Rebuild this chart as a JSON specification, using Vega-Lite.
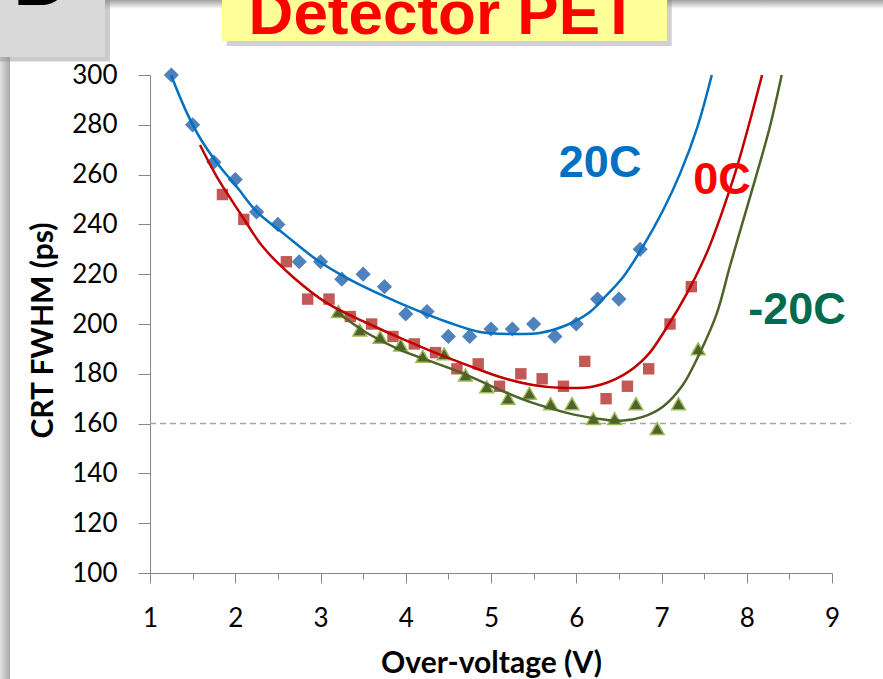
{
  "$schema": "https://vega.github.io/schema/vega-lite/v6.json",
  "width": 682,
  "height": 498,
  "autosize": {"type": "none"},
  "padding": {"left": 150, "top": 75, "right": 51, "bottom": 106},
  "background": "#FFFFFF",
  "config": {"view": {"stroke": null}},
  "resolve": {"axis": {"x": "independent"}},
  "datasets": {
    "one": [{}],
    "points": [
      {"series": "20C", "v": 1.25, "crt": 300}, {"series": "20C", "v": 1.5, "crt": 280}, {"series": "20C", "v": 1.75, "crt": 265},
      {"series": "20C", "v": 2.0, "crt": 258}, {"series": "20C", "v": 2.25, "crt": 245}, {"series": "20C", "v": 2.5, "crt": 240},
      {"series": "20C", "v": 2.75, "crt": 225}, {"series": "20C", "v": 3.0, "crt": 225}, {"series": "20C", "v": 3.25, "crt": 218},
      {"series": "20C", "v": 3.5, "crt": 220}, {"series": "20C", "v": 3.75, "crt": 215}, {"series": "20C", "v": 4.0, "crt": 204},
      {"series": "20C", "v": 4.25, "crt": 205}, {"series": "20C", "v": 4.5, "crt": 195}, {"series": "20C", "v": 4.75, "crt": 195},
      {"series": "20C", "v": 5.0, "crt": 198}, {"series": "20C", "v": 5.25, "crt": 198}, {"series": "20C", "v": 5.5, "crt": 200},
      {"series": "20C", "v": 5.75, "crt": 195}, {"series": "20C", "v": 6.0, "crt": 200}, {"series": "20C", "v": 6.25, "crt": 210},
      {"series": "20C", "v": 6.5, "crt": 210}, {"series": "20C", "v": 6.75, "crt": 230},
      {"series": "0C", "v": 1.85, "crt": 252}, {"series": "0C", "v": 2.1, "crt": 242}, {"series": "0C", "v": 2.6, "crt": 225},
      {"series": "0C", "v": 2.85, "crt": 210}, {"series": "0C", "v": 3.1, "crt": 210}, {"series": "0C", "v": 3.35, "crt": 203},
      {"series": "0C", "v": 3.6, "crt": 200}, {"series": "0C", "v": 3.85, "crt": 195}, {"series": "0C", "v": 4.1, "crt": 192},
      {"series": "0C", "v": 4.35, "crt": 188.5}, {"series": "0C", "v": 4.6, "crt": 182}, {"series": "0C", "v": 4.85, "crt": 184},
      {"series": "0C", "v": 5.1, "crt": 175}, {"series": "0C", "v": 5.35, "crt": 180}, {"series": "0C", "v": 5.6, "crt": 178},
      {"series": "0C", "v": 5.85, "crt": 175}, {"series": "0C", "v": 6.1, "crt": 185}, {"series": "0C", "v": 6.35, "crt": 170},
      {"series": "0C", "v": 6.6, "crt": 175}, {"series": "0C", "v": 6.85, "crt": 182}, {"series": "0C", "v": 7.1, "crt": 200},
      {"series": "0C", "v": 7.35, "crt": 215},
      {"series": "-20C", "v": 3.21, "crt": 205}, {"series": "-20C", "v": 3.46, "crt": 197.6}, {"series": "-20C", "v": 3.7, "crt": 194.7},
      {"series": "-20C", "v": 3.94, "crt": 191.6}, {"series": "-20C", "v": 4.2, "crt": 187}, {"series": "-20C", "v": 4.45, "crt": 188},
      {"series": "-20C", "v": 4.7, "crt": 179.5}, {"series": "-20C", "v": 4.95, "crt": 174.8}, {"series": "-20C", "v": 5.2, "crt": 170.2},
      {"series": "-20C", "v": 5.45, "crt": 172.2}, {"series": "-20C", "v": 5.7, "crt": 168}, {"series": "-20C", "v": 5.95, "crt": 168},
      {"series": "-20C", "v": 6.2, "crt": 162}, {"series": "-20C", "v": 6.45, "crt": 162}, {"series": "-20C", "v": 6.7, "crt": 168},
      {"series": "-20C", "v": 6.95, "crt": 158}, {"series": "-20C", "v": 7.2, "crt": 168}, {"series": "-20C", "v": 7.43, "crt": 190}
    ],
    "curves": [
      {"series": "20C", "v": 1.246, "crt": 300}, {"series": "20C", "v": 1.434, "crt": 284.7}, {"series": "20C", "v": 1.587, "crt": 274.7},
      {"series": "20C", "v": 1.786, "crt": 264.7}, {"series": "20C", "v": 2.02, "crt": 255}, {"series": "20C", "v": 2.255, "crt": 245},
      {"series": "20C", "v": 2.56, "crt": 236.5}, {"series": "20C", "v": 2.96, "crt": 225.7}, {"series": "20C", "v": 3.35, "crt": 217.7},
      {"series": "20C", "v": 3.93, "crt": 208.4}, {"series": "20C", "v": 4.52, "crt": 200.4}, {"series": "20C", "v": 4.87, "crt": 196.8},
      {"series": "20C", "v": 5.22, "crt": 196}, {"series": "20C", "v": 5.57, "crt": 196.4}, {"series": "20C", "v": 5.89, "crt": 199.6},
      {"series": "20C", "v": 6.16, "crt": 204.8}, {"series": "20C", "v": 6.3, "crt": 209.6}, {"series": "20C", "v": 6.55, "crt": 218.9},
      {"series": "20C", "v": 6.78, "crt": 231}, {"series": "20C", "v": 7.02, "crt": 245.8}, {"series": "20C", "v": 7.22, "crt": 260.6},
      {"series": "20C", "v": 7.42, "crt": 279}, {"series": "20C", "v": 7.59, "crt": 300},
      {"series": "0C", "v": 1.587, "crt": 271.9}, {"series": "0C", "v": 1.786, "crt": 259}, {"series": "0C", "v": 2.056, "crt": 244.6},
      {"series": "0C", "v": 2.326, "crt": 230.9}, {"series": "0C", "v": 2.677, "crt": 218.9}, {"series": "0C", "v": 3.076, "crt": 208.4},
      {"series": "0C", "v": 3.545, "crt": 200.4}, {"series": "0C", "v": 3.933, "crt": 194.4}, {"series": "0C", "v": 4.32, "crt": 188.8},
      {"series": "0C", "v": 4.72, "crt": 183.5}, {"series": "0C", "v": 5.106, "crt": 178.7}, {"series": "0C", "v": 5.49, "crt": 175.5},
      {"series": "0C", "v": 5.845, "crt": 174.3}, {"series": "0C", "v": 6.2, "crt": 174.9}, {"series": "0C", "v": 6.55, "crt": 179.5},
      {"series": "0C", "v": 6.83, "crt": 187.2}, {"series": "0C", "v": 7.065, "crt": 198.8}, {"series": "0C", "v": 7.3, "crt": 212.4},
      {"series": "0C", "v": 7.53, "crt": 228.5}, {"series": "0C", "v": 7.72, "crt": 245.8}, {"series": "0C", "v": 7.885, "crt": 263},
      {"series": "0C", "v": 8.04, "crt": 281.9}, {"series": "0C", "v": 8.18, "crt": 300},
      {"series": "-20C", "v": 3.19, "crt": 204.8}, {"series": "-20C", "v": 3.545, "crt": 196.4}, {"series": "-20C", "v": 3.933, "crt": 189.6},
      {"series": "-20C", "v": 4.32, "crt": 184.7}, {"series": "-20C", "v": 4.72, "crt": 179.5}, {"series": "-20C", "v": 5.106, "crt": 173.5},
      {"series": "-20C", "v": 5.49, "crt": 168.3}, {"series": "-20C", "v": 5.89, "crt": 164.3}, {"series": "-20C", "v": 6.2, "crt": 162.2},
      {"series": "-20C", "v": 6.55, "crt": 161.2}, {"series": "-20C", "v": 6.78, "crt": 162.7}, {"series": "-20C", "v": 7.02, "crt": 166.9},
      {"series": "-20C", "v": 7.25, "crt": 175.5}, {"series": "-20C", "v": 7.45, "crt": 188.4}, {"series": "-20C", "v": 7.65, "crt": 204.4},
      {"series": "-20C", "v": 7.8, "crt": 222.9}, {"series": "-20C", "v": 7.96, "crt": 241.8}, {"series": "-20C", "v": 8.12, "crt": 260.6},
      {"series": "-20C", "v": 8.27, "crt": 279}, {"series": "-20C", "v": 8.41, "crt": 300}
    ],
    "labels": [
      {"label": "20C", "v": 6.28, "crt": 264.5},
      {"label": "0C", "v": 7.71, "crt": 257.8},
      {"label": "-20C", "v": 8.59, "crt": 205.6}
    ]
  },
  "layer": [
    {
      "data": {"name": "one"},
      "mark": {"type": "rect", "clip": false, "fill": {"gradient": "linear", "x1": 0, "y1": 0, "x2": 0, "y2": 1, "stops": [{"offset": 0, "color": "#A0A0A0"}, {"offset": 1, "color": "#FFFFFF"}]}},
      "encoding": {
        "x": {"datum": -0.7595, "type": "quantitative", "axis": null, "scale": {"domain": [1, 9], "nice": false, "zero": false}},
        "x2": {"datum": 9.6},
        "y": {"datum": 330.1, "type": "quantitative", "scale": {"domain": [100, 300], "nice": false, "zero": false}},
        "y2": {"datum": 326.5}
      }
    },
    {
      "data": {"name": "one"},
      "mark": {"type": "rect", "clip": false, "fill": {"gradient": "linear", "x1": 0, "y1": 0, "x2": 1, "y2": 0, "stops": [{"offset": 0, "color": "#E2E2E2"}, {"offset": 1, "color": "#A8A8A8"}]}},
      "encoding": {
        "x": {"datum": -0.7595, "type": "quantitative", "axis": null},
        "x2": {"datum": -0.642},
        "y": {"datum": 308, "type": "quantitative"},
        "y2": {"datum": 57}
      }
    },
    {
      "data": {"name": "one"},
      "mark": {"type": "rect", "clip": false, "fill": "#8C8C8C", "opacity": 0.45},
      "encoding": {
        "x": {"datum": -0.7595, "type": "quantitative", "axis": null},
        "x2": {"datum": 0.53},
        "y": {"datum": 330.1, "type": "quantitative"},
        "y2": {"datum": 305.4}
      }
    },
    {
      "data": {"name": "one"},
      "mark": {"type": "rect", "clip": false, "fill": "#D9D9D9"},
      "encoding": {
        "x": {"datum": -0.7595, "type": "quantitative", "axis": null},
        "x2": {"datum": 0.472},
        "y": {"datum": 330.1, "type": "quantitative"},
        "y2": {"datum": 307.2}
      }
    },
    {
      "data": {"name": "one"},
      "mark": {"type": "text", "clip": false, "text": "D", "font": "Liberation Sans", "fontWeight": "bold", "fontSize": 80, "color": "#000000", "align": "center", "baseline": "alphabetic"},
      "encoding": {
        "x": {"datum": -0.267, "type": "quantitative", "axis": null},
        "y": {"datum": 328.3, "type": "quantitative"}
      }
    },
    {
      "data": {"name": "one"},
      "mark": {"type": "rect", "clip": false, "fill": "#8C8C8C", "opacity": 0.4},
      "encoding": {
        "x": {"datum": 1.9, "type": "quantitative", "axis": null},
        "x2": {"datum": 7.12},
        "y": {"datum": 330.1, "type": "quantitative"},
        "y2": {"datum": 311.6}
      }
    },
    {
      "data": {"name": "one"},
      "mark": {"type": "rect", "clip": false, "fill": "#FFFF99"},
      "encoding": {
        "x": {"datum": 1.845, "type": "quantitative", "axis": null},
        "x2": {"datum": 7.065},
        "y": {"datum": 330.1, "type": "quantitative"},
        "y2": {"datum": 313.65}
      }
    },
    {
      "data": {"name": "one"},
      "mark": {"type": "text", "clip": false, "text": "Detector PET", "font": "Liberation Sans", "fontWeight": "bold", "fontSize": 62, "color": "#FF0000", "align": "center", "baseline": "alphabetic"},
      "encoding": {
        "x": {"datum": 4.44, "type": "quantitative", "axis": null},
        "y": {"datum": 316.5, "type": "quantitative"}
      }
    },
    {
      "data": {"name": "one"},
      "mark": {"type": "rule", "clip": false, "color": "#A6A6A6", "strokeWidth": 1.5, "strokeDash": [6, 4]},
      "encoding": {
        "x": {"datum": 1, "type": "quantitative", "axis": null},
        "x2": {"datum": 9.22},
        "y": {"datum": 160, "type": "quantitative"}
      }
    },
    {
      "data": {"name": "points"},
      "transform": [{"filter": "datum.series === '20C'"}],
      "mark": {"type": "point", "shape": "diamond", "filled": true, "size": 230, "color": "#4F81BD", "opacity": 1},
      "encoding": {
        "x": {"field": "v", "type": "quantitative",
          "axis": {
            "orient": "bottom",
            "title": "Over-voltage (V)",
            "values": [1, 2, 3, 4, 5, 6, 7, 8, 9],
            "format": ".0f",
            "grid": false,
            "domainColor": "#868686", "tickColor": "#868686", "domainWidth": 1, "tickWidth": 1,
            "tickSize": 10, "labelPadding": 22,
            "labelFont": "Lato", "labelFontSize": 26, "labelColor": "#000000", "labelFlush": false,
            "titleFont": "Lato", "titleFontSize": 30, "titleFontWeight": "bold", "titleColor": "#000000",
            "titleX": 341, "titleY": 90, "titleBaseline": "middle", "titleAlign": "center"
          }
        },
        "y": {"field": "crt", "type": "quantitative",
          "axis": {
            "title": "CRT FWHM (ps)",
            "values": [100, 120, 140, 160, 180, 200, 220, 240, 260, 280, 300],
            "grid": false,
            "domainColor": "#868686", "tickColor": "#868686", "domainWidth": 1, "tickWidth": 1,
            "tickSize": 12, "labelPadding": 21,
            "labelFont": "Lato", "labelFontSize": 26, "labelColor": "#000000", "labelFlush": false,
            "titleFont": "Lato", "titleFontSize": 30, "titleFontWeight": "bold", "titleColor": "#000000",
            "titleX": -107, "titleY": 255, "titleBaseline": "middle", "titleAlign": "center", "titleAngle": -90
          }
        }
      }
    },
    {
      "data": {"name": "points"},
      "transform": [{"filter": "datum.series === '0C'"}],
      "mark": {"type": "point", "shape": "square", "filled": true, "size": 130, "color": "#C0504D", "opacity": 0.95},
      "encoding": {
        "x": {"field": "v", "type": "quantitative",
          "axis": {
            "orient": "bottom",
            "title": null,
            "values": [1.5, 2.5, 3.5, 4.5, 5.5, 6.5, 7.5, 8.5],
            "labels": false,
            "domain": false,
            "grid": false,
            "tickColor": "#868686", "tickWidth": 1, "tickSize": 6
          }
        },
        "y": {"field": "crt", "type": "quantitative"}
      }
    },
    {
      "data": {"name": "points"},
      "transform": [{"filter": "datum.series === '-20C'"}],
      "mark": {"type": "point", "shape": "triangle-up", "filled": true, "size": 190, "fill": "#4F6228", "stroke": "#9BBB59", "strokeWidth": 1.5, "opacity": 1, "fillOpacity": 1},
      "encoding": {
        "x": {"field": "v", "type": "quantitative", "axis": null},
        "y": {"field": "crt", "type": "quantitative"}
      }
    },
    {
      "data": {"name": "curves"},
      "transform": [{"filter": "datum.series === '20C'"}],
      "mark": {"type": "line", "interpolate": "catmull-rom", "color": "#0070C0", "strokeWidth": 2.5, "clip": true},
      "encoding": {
        "x": {"field": "v", "type": "quantitative", "axis": null},
        "y": {"field": "crt", "type": "quantitative"}
      }
    },
    {
      "data": {"name": "curves"},
      "transform": [{"filter": "datum.series === '0C'"}],
      "mark": {"type": "line", "interpolate": "catmull-rom", "color": "#C00000", "strokeWidth": 2.5, "clip": true},
      "encoding": {
        "x": {"field": "v", "type": "quantitative", "axis": null},
        "y": {"field": "crt", "type": "quantitative"}
      }
    },
    {
      "data": {"name": "curves"},
      "transform": [{"filter": "datum.series === '-20C'"}],
      "mark": {"type": "line", "interpolate": "catmull-rom", "color": "#4F6228", "strokeWidth": 2.5, "clip": true},
      "encoding": {
        "x": {"field": "v", "type": "quantitative", "axis": null},
        "y": {"field": "crt", "type": "quantitative"}
      }
    },
    {
      "data": {"name": "labels"},
      "mark": {"type": "text", "font": "Liberation Sans", "fontWeight": "bold", "fontSize": 45, "align": "center", "baseline": "middle", "clip": false},
      "encoding": {
        "x": {"field": "v", "type": "quantitative", "axis": null},
        "y": {"field": "crt", "type": "quantitative"},
        "text": {"field": "label"},
        "color": {"field": "label", "type": "nominal", "legend": null,
          "scale": {"domain": ["20C", "0C", "-20C"], "range": ["#0070C0", "#FF0000", "#006B4E"]}}
      }
    }
  ]
}
